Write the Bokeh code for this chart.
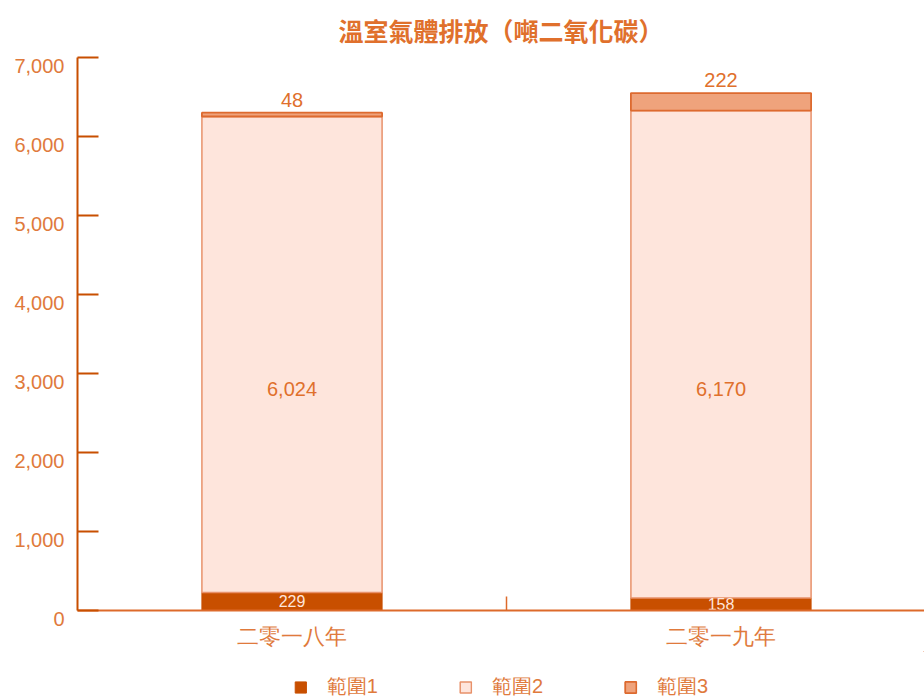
from bokeh.plotting import figure
from bokeh.layouts import column
from bokeh.models import (ColumnDataSource, Range1d, FixedTicker, NumeralTickFormatter,
                          Legend, Title)
from bokeh.core.properties import value
from bokeh.embed import file_html
from bokeh.resources import INLINE

# ---- data ----
categories = ["二零一八年", "二零一九年"]
series_names = ["範圍1", "範圍2", "範圍3"]
scope1 = [229, 158]
scope2 = [6024, 6170]
scope3 = [48, 222]
y_ticks = [0, 1000, 2000, 3000, 4000, 5000, 6000, 7000]
title_text = "溫室氣體排放（噸二氧化碳）"

# ---- styling ----
DARK = "#c84f00"
LIGHT = "#fee5dc"
MID = "#efa37c"
AXIS_C = "#c84f00"
TEXT_C = "#e0702c"
LABEL_C = "#e07a3c"
CJK = "Noto Sans CJK TC"
NUM = "Liberation Sans"
fills = [DARK, LIGHT, MID]
lines = [DARK, "#e8916a", "#dd6a2f"]
widths = [1, 1.5, 1.8]

n = len(categories)
frame_w = 847
full_w = 858
xs = [i + 0.5 for i in range(n)]
x_end = n * frame_w / full_w

totals = [a + b + c for a, b, c in zip(scope1, scope2, scope3)]

src = ColumnDataSource(dict(x=xs, s1=scope1, s2=scope2, s3=scope3, cat=categories))
stack_cols = ["s1", "s2", "s3"]

p = figure(width=924, height=651, output_backend="svg", toolbar_location=None,
           x_range=Range1d(0, x_end), y_range=Range1d(0, y_ticks[-1]),
           min_border_left=77, min_border_right=0, min_border_top=57, min_border_bottom=40)
p.outline_line_color = None
p.xgrid.visible = False
p.ygrid.visible = False
p.background_fill_color = "white"

p.title = Title(text=title_text, align="center", text_font=CJK, text_font_size="25px",
                text_color=TEXT_C, text_font_style="bold", offset=4, standoff=19)

p.vbar_stack(stack_cols, x="x", width=0.42, source=src,
             fill_color=fills, line_color=lines, line_width=widths)

# value labels
lab1 = ColumnDataSource(dict(x=xs, y=[v / 2 for v in scope1], t=[f"{v:,}" for v in scope1]))
p.text(x="x", y="y", text="t", source=lab1, text_align="center", text_baseline="middle",
       text_font=value(NUM), text_font_size="16px", text_color=LIGHT)
lab2 = ColumnDataSource(dict(x=xs, y=[y_ticks[-1] * 0.4] * n, t=[f"{v:,}" for v in scope2]))
p.text(x="x", y="y", text="t", source=lab2, text_align="center", text_baseline="middle",
       text_font=value(NUM), text_font_size="20px", text_color=TEXT_C)
lab3 = ColumnDataSource(dict(x=xs, y=totals, t=[f"{v:,}" for v in scope3]))
p.text(x="x", y="y", text="t", source=lab3, text_align="center", text_baseline="bottom",
       y_offset=-6, text_font=value(NUM), text_font_size="20px", text_color=TEXT_C)

# y axis
ya = p.yaxis[0]
ya.ticker = FixedTicker(ticks=y_ticks)
ya.formatter = NumeralTickFormatter(format="0,0")
ya.major_label_overrides = {v: "\n" + f"{v:,}" for v in y_ticks}
ya.major_label_text_line_height = 0.8
ya.axis_line_color = AXIS_C
ya.axis_line_width = 2
ya.major_tick_line_color = AXIS_C
ya.major_tick_line_width = 2
ya.major_tick_in = 21
ya.major_tick_out = 0
ya.minor_tick_line_color = None
ya.major_label_text_font = NUM
ya.major_label_text_font_size = "20px"
ya.major_label_text_color = LABEL_C
ya.major_label_standoff = 13

# x axis
xa = p.xaxis[0]
xa.ticker = FixedTicker(ticks=xs, minor_ticks=[1.0 * i for i in range(1, n)])
xa.major_label_overrides = {x: c for x, c in zip(xs, categories)}
xa.axis_line_color = "#dd6a2b"
xa.axis_line_width = 2
xa.major_tick_line_color = None
xa.major_tick_in = 0
xa.major_tick_out = 0
xa.minor_tick_line_color = "#dd6a2b"
xa.minor_tick_line_width = 1.5
xa.minor_tick_in = 14
xa.minor_tick_out = 0
xa.major_label_text_font = NUM
xa.major_label_text_font_size = "21.5px"
xa.major_label_text_color = LABEL_C
xa.major_label_standoff = 14

# legend strip below the chart (its bars lie outside its view; only the key shows)
lg = figure(width=924, height=49, output_backend="svg", toolbar_location=None,
            x_axis_type=None, y_axis_type=None,
            x_range=Range1d(-3, -2), y_range=Range1d(-3, -2),
            min_border_left=77, min_border_right=0, min_border_top=0, min_border_bottom=0)
lg.outline_line_color = None
lg.background_fill_color = "white"
items = []
for name, col, fc, lc, lw in zip(series_names, stack_cols, fills, lines, widths):
    r = lg.vbar(x="x", top=col, width=0.42, source=src,
                fill_color=fc, line_color=lc, line_width=lw)
    items.append((name, [r]))
legend = Legend(items=items, orientation="horizontal", location="bottom_center",
                label_text_font=NUM, label_text_font_size="20px", label_text_color=LABEL_C,
                glyph_width=14, glyph_height=14, label_standoff=20, spacing=80,
                label_height=20, border_line_color=None, background_fill_alpha=0,
                padding=0, margin=0)
lg.add_layout(legend)

layout = column(p, lg, spacing=0)
open("out.html", "w").write(file_html(layout, INLINE))
